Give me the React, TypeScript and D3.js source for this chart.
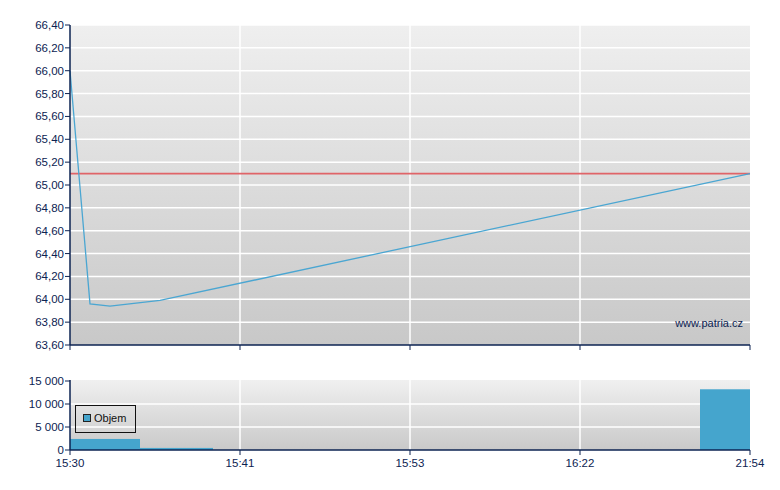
import React from "react";
import * as d3 from "d3";

// x positions are slot indices along an evenly-spaced index axis (0..136)
const pricePos = [0, 4, 8, 18, 136];
const priceVals = [66.0, 63.96, 63.94, 63.99, 65.1];
const refPrice = 65.1;

const volStart = [0, 14, 126];
const volEnd = [14, 28.6, 136];
const volVals = [2400, 450, 13200];

const xTickPos = [0, 34, 68, 102, 136];
const xTickLabels = ["15:30", "15:41", "15:53", "16:22", "21:54"];
const priceTicks = [63.6, 63.8, 64.0, 64.2, 64.4, 64.6, 64.8, 65.0, 65.2, 65.4, 65.6, 65.8, 66.0, 66.2, 66.4];
const volTicks = [0, 5000, 10000, 15000];

const W = 780, H = 490;
const L = 70, R = 750;
const mainTop = 25, mainBot = 345;
const volTop = 381, volBot = 450;
const axisColor = "#0c2352";
const font = "'Liberation Sans', Arial, sans-serif";

export default function App() {
  const x = d3.scaleLinear().domain([0, 136]).range([L, R]);
  const y = d3.scaleLinear().domain([63.6, 66.4]).range([mainBot, mainTop]);
  const yv = d3.scaleLinear().domain([0, 15000]).range([volBot, volTop]);
  const line = d3
    .line<number>()
    .x((_, i) => x(pricePos[i]))
    .y((d) => y(d));
  const fmtP = (v: number) => v.toFixed(2).replace(".", ",");
  const fmtV = (v: number) => (v >= 1000 ? `${Math.floor(v / 1000)} ${String(v % 1000).padStart(3, "0")}` : String(v));

  return (
    <svg width={W} height={H} style={{ position: "absolute", left: 0, top: 0, background: "#fff" }}>
      <defs>
        <linearGradient id="gMain" x1="0" y1="0" x2="0" y2="1">
          <stop offset="0" stopColor="#efefef" />
          <stop offset="1" stopColor="#c8c8c8" />
        </linearGradient>
        <linearGradient id="gVol" x1="0" y1="0" x2="0" y2="1">
          <stop offset="0" stopColor="#f0f0f0" />
          <stop offset="1" stopColor="#c9c9c9" />
        </linearGradient>
      </defs>
      {/* main panel */}
      <rect x={L} y={mainTop} width={R - L} height={mainBot - mainTop} fill="url(#gMain)" />
      {priceTicks.slice(1).map((t) => (
        <line key={t} x1={L} x2={R} y1={y(t)} y2={y(t)} stroke="#fff" strokeWidth={1.5} />
      ))}
      {xTickPos.slice(1, -1).map((p) => (
        <line key={p} x1={x(p)} x2={x(p)} y1={mainTop} y2={mainBot} stroke="#fff" strokeWidth={1.5} />
      ))}
      <line x1={L} x2={R} y1={y(refPrice)} y2={y(refPrice)} stroke="#e06468" strokeWidth={1.8} />
      <path d={line(priceVals) || ""} fill="none" stroke="#4aa6d2" strokeWidth={1.3} />
      <text x={743} y={327} textAnchor="end" fontFamily={font} fontSize={11} fill={axisColor}>
        www.patria.cz
      </text>
      <line x1={L} x2={L} y1={mainTop} y2={mainBot} stroke={axisColor} strokeWidth={1.5} />
      <line x1={L} x2={R} y1={mainBot} y2={mainBot} stroke={axisColor} strokeWidth={1.5} />
      {priceTicks.map((t) => (
        <g key={t}>
          <line x1={L - 5} x2={L} y1={y(t)} y2={y(t)} stroke={axisColor} strokeWidth={1} />
          <text x={L - 6} y={y(t) + 4} textAnchor="end" fontFamily={font} fontSize={11.5} fill={axisColor}>
            {fmtP(t)}
          </text>
        </g>
      ))}
      {xTickPos.map((p) => (
        <line key={p} x1={x(p)} x2={x(p)} y1={mainBot} y2={mainBot + 5} stroke={axisColor} strokeWidth={1} />
      ))}

      {/* volume panel */}
      <rect x={L} y={volTop - 1} width={R - L} height={volBot - volTop + 1} fill="url(#gVol)" />
      {volTicks.slice(1, -1).map((t) => (
        <line key={t} x1={L} x2={R} y1={yv(t)} y2={yv(t)} stroke="#fff" strokeWidth={1.5} />
      ))}
      {xTickPos.slice(1, -1).map((p) => (
        <line key={p} x1={x(p)} x2={x(p)} y1={volTop - 1} y2={volBot} stroke="#fff" strokeWidth={1.5} />
      ))}
      {volVals.map((v, i) => (
        <rect
          key={i}
          x={x(volStart[i])}
          y={yv(v)}
          width={x(volEnd[i]) - x(volStart[i])}
          height={volBot - yv(v)}
          fill="#45a5cd"
        />
      ))}
      <rect x={75.5} y={405.5} width={60} height={27} fill="none" stroke="#111" strokeWidth={1} />
      <rect x={83.5} y={414.5} width={7} height={7} fill="#45a5cd" stroke="#222" strokeWidth={1} />
      <text x={94} y={422} fontFamily={font} fontSize={11} fill="#111">
        Objem
      </text>
      <line x1={L} x2={L} y1={volTop - 1} y2={volBot} stroke={axisColor} strokeWidth={1.5} />
      <line x1={L} x2={R} y1={volBot} y2={volBot} stroke={axisColor} strokeWidth={1.5} />
      {volTicks.map((t) => (
        <g key={t}>
          <line x1={L - 5} x2={L} y1={yv(t)} y2={yv(t)} stroke={axisColor} strokeWidth={1} />
          <text x={L - 6} y={yv(t) + 4} textAnchor="end" fontFamily={font} fontSize={11.5} fill={axisColor}>
            {fmtV(t)}
          </text>
        </g>
      ))}
      {xTickPos.map((p, i) => (
        <g key={p}>
          <line x1={x(p)} x2={x(p)} y1={volBot} y2={volBot + 5} stroke={axisColor} strokeWidth={1} />
          <text x={x(p)} y={467} textAnchor="middle" fontFamily={font} fontSize={11.5} fill={axisColor}>
            {xTickLabels[i]}
          </text>
        </g>
      ))}
    </svg>
  );
}
